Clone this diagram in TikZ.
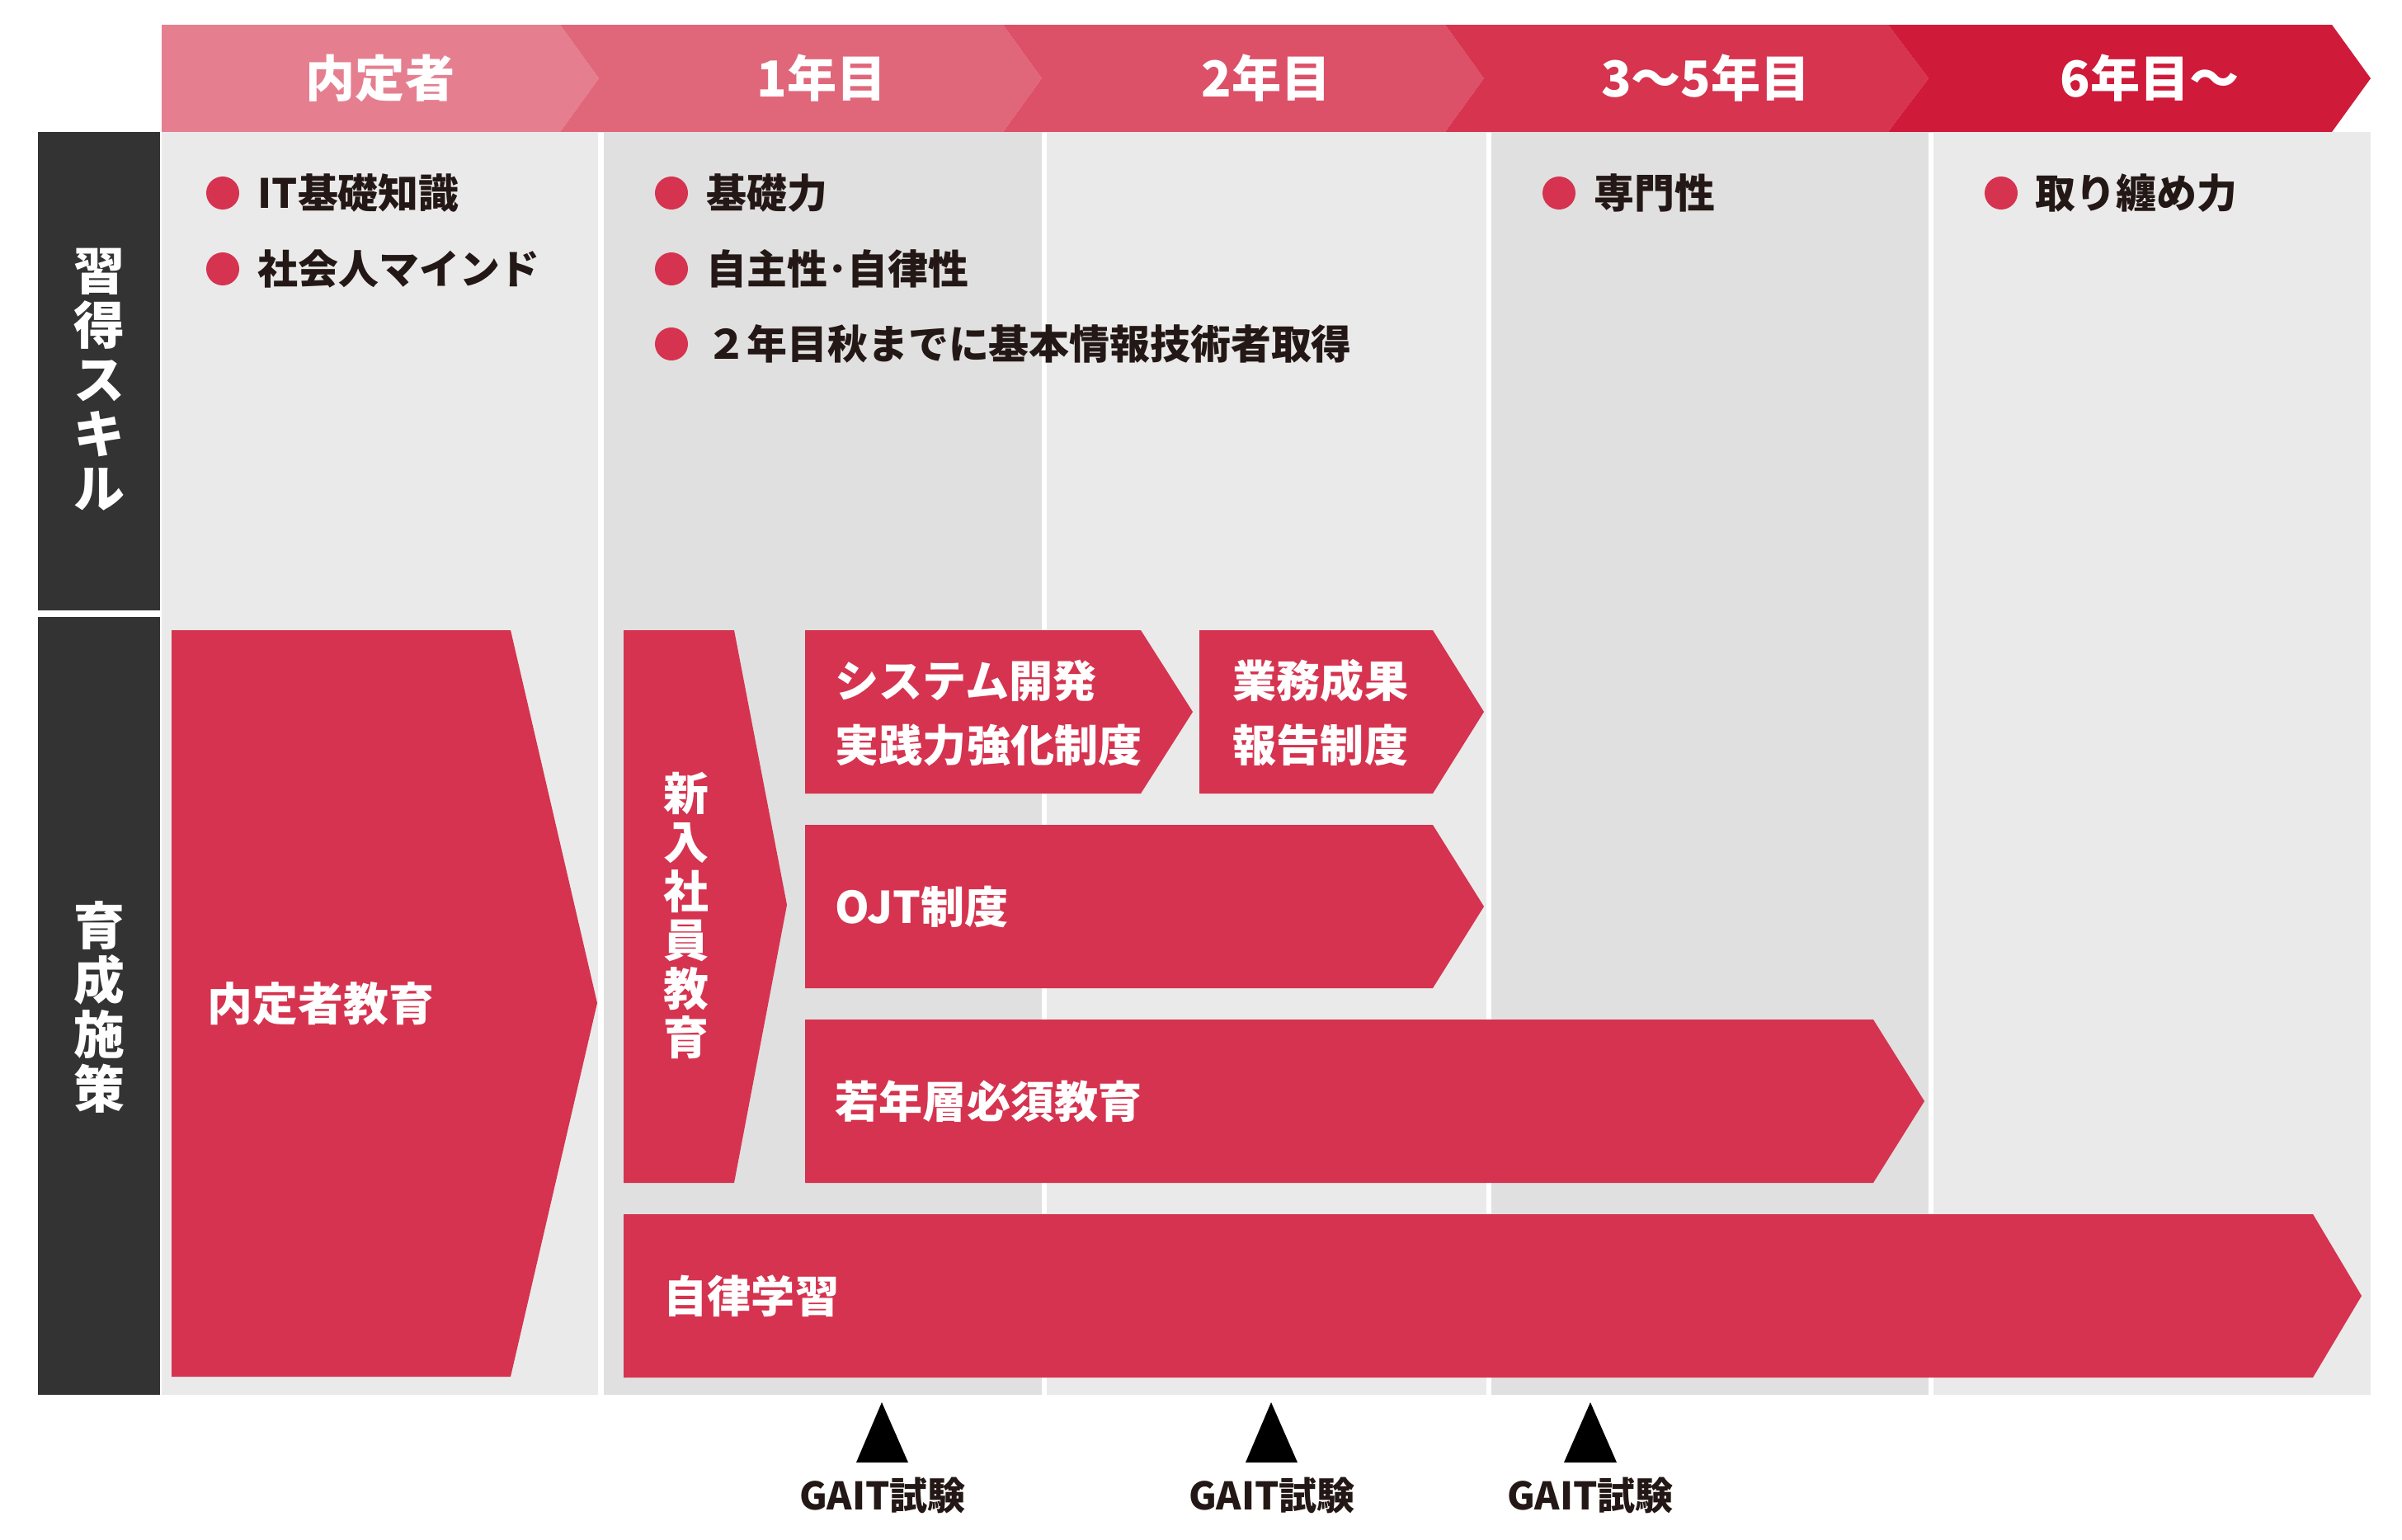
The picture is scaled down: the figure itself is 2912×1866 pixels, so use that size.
\documentclass[tikz,border=0pt]{standalone}
\usepackage{fontspec}
\setmainfont{Noto Sans CJK JP}
\definecolor{headA}{HTML}{E57F8F}
\definecolor{headB}{HTML}{E0677A}
\definecolor{headC}{HTML}{DC5068}
\definecolor{headD}{HTML}{D6344F}
\definecolor{headE}{HTML}{D01A39}
\definecolor{planred}{HTML}{D5334F}
\definecolor{gridlight}{HTML}{EAEAEA}
\definecolor{griddark}{HTML}{E0E0E0}
\definecolor{side}{HTML}{333333}
\definecolor{ink}{HTML}{231815}
\begin{document}
\begin{tikzpicture}[x=0.01cm,y=-0.01cm,
    head/.style={text=white, inner sep=0pt, font=\bfseries\fontsize{17.1}{20}\selectfont},
    sidelabel/.style={text=white, inner sep=0pt, align=center, font=\bfseries\fontsize{17.6}{18.8}\selectfont},
    item/.style={anchor=west, text=ink, inner sep=0pt, font=\bfseries\fontsize{13.9}{16}\selectfont},
    plan/.style={anchor=west, text=white, inner sep=0pt, align=left, font=\bfseries\fontsize{15.1}{22.2}\selectfont},
    gait/.style={text=ink, inner sep=0pt, font=\bfseries\fontsize{13.1}{15}\selectfont}]
    \useasboundingbox (0,0) rectangle (2912,1866);
    % header
    \fill[headA] (196,30) -- (679,30) -- (726,95) -- (679,160) -- (196,160) -- cycle;
    \fill[headB] (679,30) -- (1216,30) -- (1263,95) -- (1216,160) -- (679,160) -- (726,95) -- cycle;
    \fill[headC] (1216,30) -- (1752,30) -- (1799,95) -- (1752,160) -- (1216,160) -- (1263,95) -- cycle;
    \fill[headD] (1752,30) -- (2289,30) -- (2338,95) -- (2289,160) -- (1752,160) -- (1799,95) -- cycle;
    \fill[headE] (2289,30) -- (2827,30) -- (2874,95) -- (2827,160) -- (2289,160) -- (2338,95) -- cycle;
    \node[head] (naitei) at (461,95) {内定者};
    \node[head] (year1) at (996,95) {1年目};
    \node[head] (year2) at (1535,95) {2年目};
    \node[head] (year3) at (2068,95) {3〜5年目};
    \node[head] (year6) at (2606,95) {6年目〜};
    % columns
    \fill[gridlight] (196,160) rectangle (725,1691);
    \fill[griddark] (732,160) rectangle (1263,1691);
    \fill[gridlight] (1269,160) rectangle (1802,1691);
    \fill[griddark] (1808,160) rectangle (2338,1691);
    \fill[gridlight] (2344,160) rectangle (2874,1691);
    % side labels
    \fill[side] (46,160) rectangle (194,739.5);
    \fill[side] (46,748) rectangle (194,1691);
    \node[sidelabel] (skill) at (120,460) {習\\得\\ス\\キ\\ル};
    \node[sidelabel] (measure) at (120,1221) {育\\成\\施\\策};
    % skills
    \fill[planred] (270,234) circle (20) (270,326) circle (20)
                   (814,234) circle (20) (814,326) circle (20) (814,417) circle (20)
                   (1890,234) circle (20) (2426,234) circle (20);
    \node[item] (itbasic) at (312,234) {IT基礎知識};
    \node[item] (mind) at (312,326) {社会人マインド};
    \node[item] (basic) at (856,234) {基礎力};
    \node[item] (self) at (856,326) {自主性･自律性};
    \node[item] (license) at (856,417) {２年目秋までに基本情報技術者取得};
    \node[item] (expert) at (1932,234) {専門性};
    \node[item] (lead) at (2467,234) {取り纏め力};
    % measures
    \fill[planred] (208,764) -- (619,764) -- (724,1216) -- (619,1669) -- (208,1669) -- cycle;
    \fill[planred] (756,764) -- (890,764) -- (954,1097) -- (890,1434) -- (756,1434) -- cycle;
    \fill[planred] (976,764) -- (1383,764) -- (1446,863) -- (1383,962) -- (976,962) -- cycle;
    \fill[planred] (1454,764) -- (1737,764) -- (1799,863) -- (1737,962) -- (1454,962) -- cycle;
    \fill[planred] (976,1000) -- (1737,1000) -- (1799,1099) -- (1737,1198) -- (976,1198) -- cycle;
    \fill[planred] (976,1236) -- (2271,1236) -- (2333,1335) -- (2271,1434) -- (976,1434) -- cycle;
    \fill[planred] (756,1472) -- (2804,1472) -- (2863,1571) -- (2804,1670) -- (756,1670) -- cycle;
    \node[plan, font=\bfseries\fontsize{15.6}{22.2}\selectfont] (naiteiedu) at (251,1217) {内定者教育};
    \node[plan, anchor=center, align=center, font=\bfseries\fontsize{15.6}{16.8}\selectfont] (newcomer) at (832,1110) {新\\入\\社\\員\\教\\育};
    \node[plan] (sysdev) at (1012,864) {システム開発\\実践力強化制度};
    \node[plan] (report) at (1494,864) {業務成果\\報告制度};
    \node[plan] (ojt) at (1012,1099) {OJT制度};
    \node[plan] (young) at (1012,1335) {若年層必須教育};
    \node[plan] (selfstudy) at (804,1571) {自律学習};
    % exams
    \fill (1038,1773) -- (1069,1700) -- (1101,1773) -- cycle;
    \fill (1510,1773) -- (1541,1700) -- (1573,1773) -- cycle;
    \fill (1896,1773) -- (1928,1700) -- (1960,1773) -- cycle;
    \node[gait] (gaitA) at (1070,1813) {GAIT試験};
    \node[gait] (gaitB) at (1542,1813) {GAIT試験};
    \node[gait] (gaitC) at (1928,1813) {GAIT試験};
\end{tikzpicture}
\end{document}
